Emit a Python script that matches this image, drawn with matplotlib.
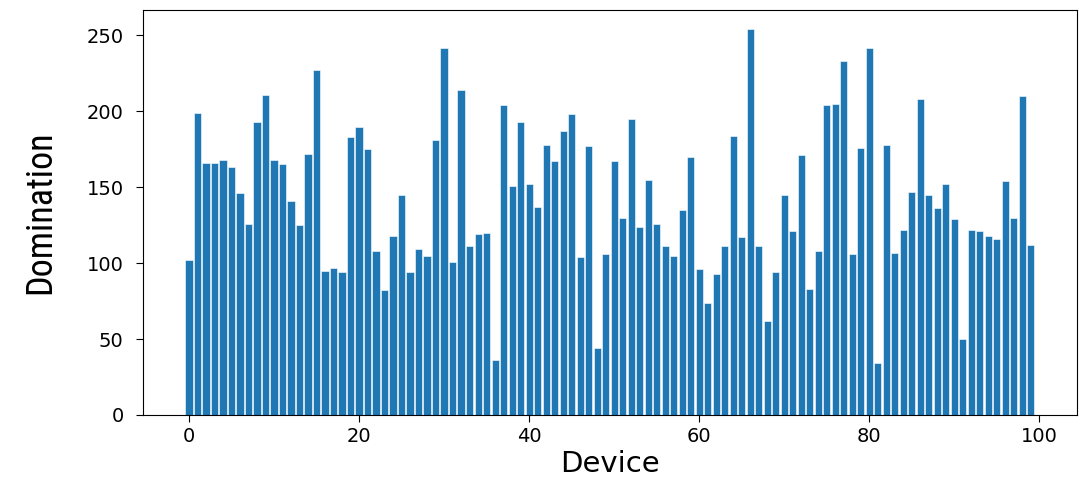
import numpy as np
import matplotlib
matplotlib.use("Agg")
import matplotlib.pyplot as plt
from matplotlib import font_manager

# domination count per device
domination = [
    102, 199, 166, 166, 168, 163, 146, 126, 193, 211,
    168, 165, 141, 125, 172, 227, 95, 97, 94, 183,
    190, 175, 108, 82, 118, 145, 94, 109, 105, 181,
    242, 101, 214, 111, 119, 120, 36, 204, 151, 193,
    152, 137, 178, 167, 187, 198, 104, 177, 44, 106,
    167, 130, 195, 124, 155, 126, 111, 105, 135, 170,
    96, 74, 93, 111, 184, 117, 254, 111, 62, 94,
    145, 121, 171, 83, 108, 204, 205, 233, 106, 176,
    242, 34, 178, 107, 122, 147, 208, 145, 136, 152,
    129, 50, 122, 121, 118, 116, 154, 130, 210, 112,
]
devices = np.arange(len(domination))

# pick a narrow face for the y label if one is around
names = {f.name for f in font_manager.fontManager.ttflist}
narrow = [n for n in ["Liberation Sans Narrow", "Roboto Condensed",
                      "Open Sans Condensed"] if n in names]

fig = plt.figure(figsize=(10.79, 4.78), dpi=100)
ax = fig.add_axes([0.1325, 0.1318, 0.8655, 0.8472])

ax.bar(devices, domination, width=0.85, color="#1f77b4",
       edgecolor="white", linewidth=0.4)

ax.set_yticks([0, 50, 100, 150, 200, 250])
ax.tick_params(labelsize=14, length=5)
ax.tick_params(axis="y", pad=9)
ax.set_xlabel("Device", fontsize=21, labelpad=3)
ax.set_ylabel("Domination", fontsize=26, family=narrow + ["DejaVu Sans"],
              fontstretch="condensed", labelpad=20)

fig.savefig("out.png", dpi=100)
